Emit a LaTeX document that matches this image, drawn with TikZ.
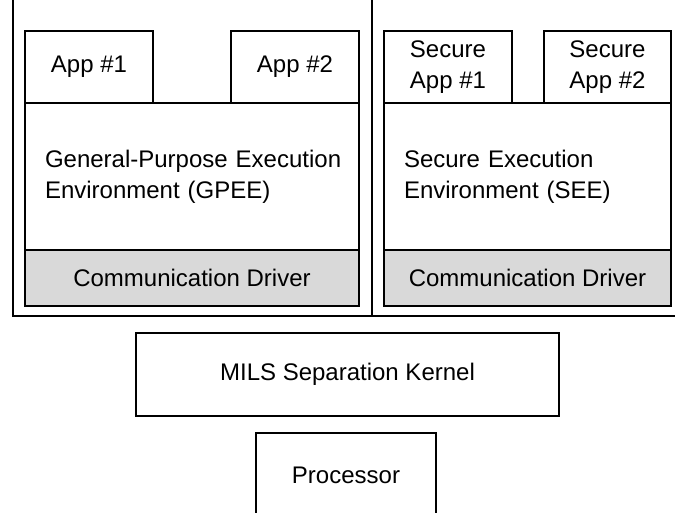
\documentclass[tikz,border=0pt]{standalone}
\usepackage{fontspec}
\setmainfont{Liberation Sans}
\usepackage{tikz}
\usepackage{xcolor}
\usetikzlibrary{positioning}

\begin{document}
\begin{tikzpicture}[x=1pt, y=-1pt]
                        % coordinates in pixels, y grows downwards
                        \tikzstyle{every node}=[rectangle, draw=black, line width=1.5pt, inner sep=0pt, font=\fontsize{24}{31}\selectfont]
                        \tikzstyle{app}=[minimum height=72pt, align=center]
                        \tikzstyle{env}=[minimum height=147pt, align=left, inner xsep=20pt]
                        \tikzstyle{drv}=[minimum height=56pt, fill=black!15]
                        \useasboundingbox (0,0) rectangle (675,513);
                        \clip (0,0) rectangle (675,513);

                        \draw[line width=1.5pt] (13,-5) -- (13,316) -- (680,316);
                        \draw[line width=1.5pt] (372,-5) -- (372,316);

                        \node[app, minimum width=128pt] (A1) at (89,67) {App \#1};
                        \node[app, minimum width=128pt] (A2) at (295,67) {App \#2};
                        \node[env, text width=294pt] (GPEE) at (192,176.5) {\mbox{General-Purpose Execution}\\\mbox{Environment (GPEE)}};
                        \node[drv, minimum width=334pt] (D1) at (192,278) {Communication Driver};

                        \node[app, minimum width=128pt] (S1) at (448,67) {Secure\\App \#1};
                        \node[app, minimum width=127pt] (S2) at (607.5,67) {Secure\\App \#2};
                        \node[env, text width=247pt] (SEE) at (527.5,176.5) {\mbox{Secure Execution}\\\mbox{Environment (SEE)}};
                        \node[drv, minimum width=287pt] (D2) at (527.5,278) {Communication Driver};

                        \node[minimum width=423pt, minimum height=83pt] (K) at (347.5,374.5) {MILS Separation Kernel};
                        \node[minimum width=180pt, minimum height=84pt] (P) at (346,475) {Processor};
                \end{tikzpicture}
\end{document}
